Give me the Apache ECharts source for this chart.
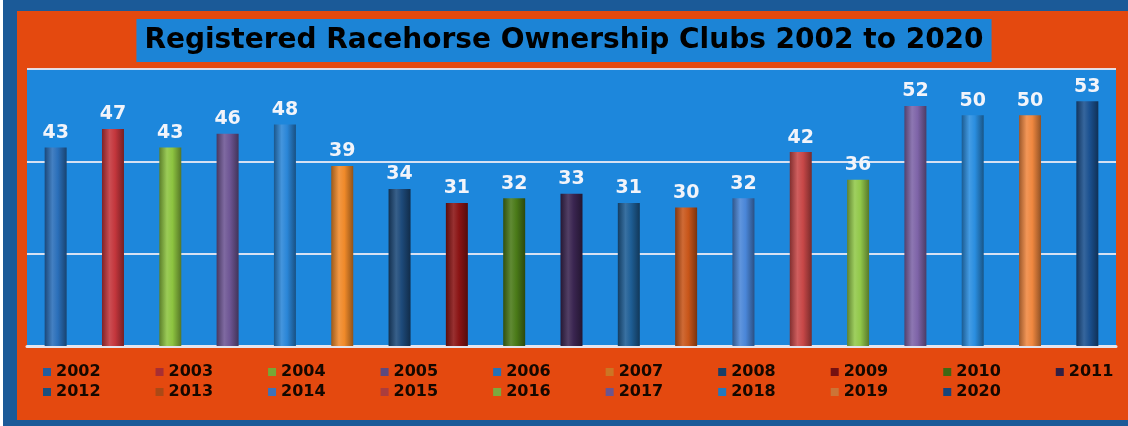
<!DOCTYPE html>
<html>
<head>
<meta charset="utf-8">
<script src="https://cdn.jsdelivr.net/npm/echarts@6/dist/echarts.min.js"></script>
<style>
  html, body { margin: 0; padding: 0; background: #fff; }
  #chart { width: 1128px; height: 426px; }
</style>
</head>
<body>
<div id="chart"></div>
<script>
var myChart = echarts.init(document.getElementById('chart'));

// data
var years = ['2002','2003','2004','2005','2006','2007','2008','2009','2010','2011',
             '2012','2013','2014','2015','2016','2017','2018','2019','2020'];
var clubs = [43, 47, 43, 46, 48, 39, 34, 31, 32, 33, 31, 30, 32, 42, 36, 52, 50, 50, 53];
var barColors = ['#2a6fba','#c4363c','#8dc440','#6e5694','#2a86d8','#f08a2a','#1d4a7a',
                 '#8a1414','#4a7a18','#3a2550','#1e5e95','#c8561a','#4a86d8','#c84848',
                 '#92c84a','#7e64a8','#2a8ee0','#f08840','#1b5190'];
var yTicks = [0, 20, 40, 60];

function shade(hex, f) {
    var n = parseInt(hex.slice(1), 16);
    var r = (n >> 16) & 255, g = (n >> 8) & 255, b = n & 255;
    function c(v) {
        v = f < 0 ? v * (1 + f) : v + (255 - v) * f;
        return Math.max(0, Math.min(255, Math.round(v)));
    }
    return 'rgb(' + c(r) + ',' + c(g) + ',' + c(b) + ')';
}

function cylinder(hex) {
    return new echarts.graphic.LinearGradient(0, 0, 1, 0, [
        {offset: 0, color: shade(hex, -0.35)},
        {offset: 0.35, color: shade(hex, 0.12)},
        {offset: 0.6, color: hex},
        {offset: 1, color: shade(hex, -0.4)}
    ]);
}

var series = [];
for (var i = 0; i < years.length; i++) {
    var d = [];
    for (var j = 0; j < years.length; j++) {
        d.push(j === i ? clubs[i] : '-');
    }
    series.push({
        name: years[i],
        type: 'bar',
        barWidth: 22,
        barGap: '-100%',
        data: d,
        itemStyle: {color: cylinder(barColors[i])},
        label: {
            show: true,
            position: 'top',
            distance: 5,
            color: '#f2f4fa',
            fontSize: 19,
            fontWeight: 'bold',
            fontFamily: 'DejaVu Sans'
        }
    });
}

// legend entries get flat squares instead of the cylinder gradient
function legendItems(from, to) {
    var res = [];
    for (var k = from; k < to; k++) {
        res.push({name: years[k], itemStyle: {color: shade(barColors[k], -0.15)}});
    }
    return res;
}

var legendText = {
    color: '#150800',
    fontSize: 16,
    fontWeight: 'bold',
    fontFamily: 'DejaVu Sans',
    lineHeight: 16
};

option = {
    backgroundColor: '#fff',
    animation: false,
    graphic: [
        {type: 'rect', z: -10, shape: {x: 3, y: 0, width: 1125, height: 426}, style: {fill: '#1b5a98'}},
        {type: 'rect', z: -9, shape: {x: 17, y: 11, width: 1111, height: 409}, style: {fill: '#e4490f'}}
    ],
    title: {
        text: 'Registered Racehorse Ownership Clubs 2002 to 2020',
        left: 'center',
        top: 19,
        backgroundColor: '#1c84d6',
        padding: [8, 8, 7, 8],
        textStyle: {
            color: '#000',
            fontSize: 28,
            fontWeight: 'bold',
            fontFamily: 'DejaVu Sans',
            lineHeight: 28
        }
    },
    legend: [
        {
            data: legendItems(0, 10),
            left: 43, top: 364, padding: 0,
            icon: 'rect', itemWidth: 8, itemHeight: 8, itemGap: 55,
            textStyle: legendText
        },
        {
            data: legendItems(10, years.length),
            left: 43, top: 384, padding: 0,
            icon: 'rect', itemWidth: 8, itemHeight: 8, itemGap: 55,
            textStyle: legendText
        }
    ],
    grid: {
        left: 27, right: 12, top: 69, bottom: 80,
        show: true,
        backgroundColor: '#1d87dc',
        borderWidth: 0
    },
    xAxis: {
        type: 'category',
        data: years,
        axisTick: {show: false},
        axisLabel: {show: false},
        axisLine: {show: true, lineStyle: {color: '#e4e4ee', width: 3}}
    },
    yAxis: {
        type: 'value',
        min: yTicks[0],
        max: yTicks[yTicks.length - 1],
        interval: yTicks[1] - yTicks[0],
        axisLabel: {show: false},
        axisLine: {show: false},
        axisTick: {show: false},
        splitLine: {lineStyle: {color: 'rgba(235,235,245,0.9)', width: 2}}
    },
    series: series
};

myChart.setOption(option);
</script>
</body>
</html>
